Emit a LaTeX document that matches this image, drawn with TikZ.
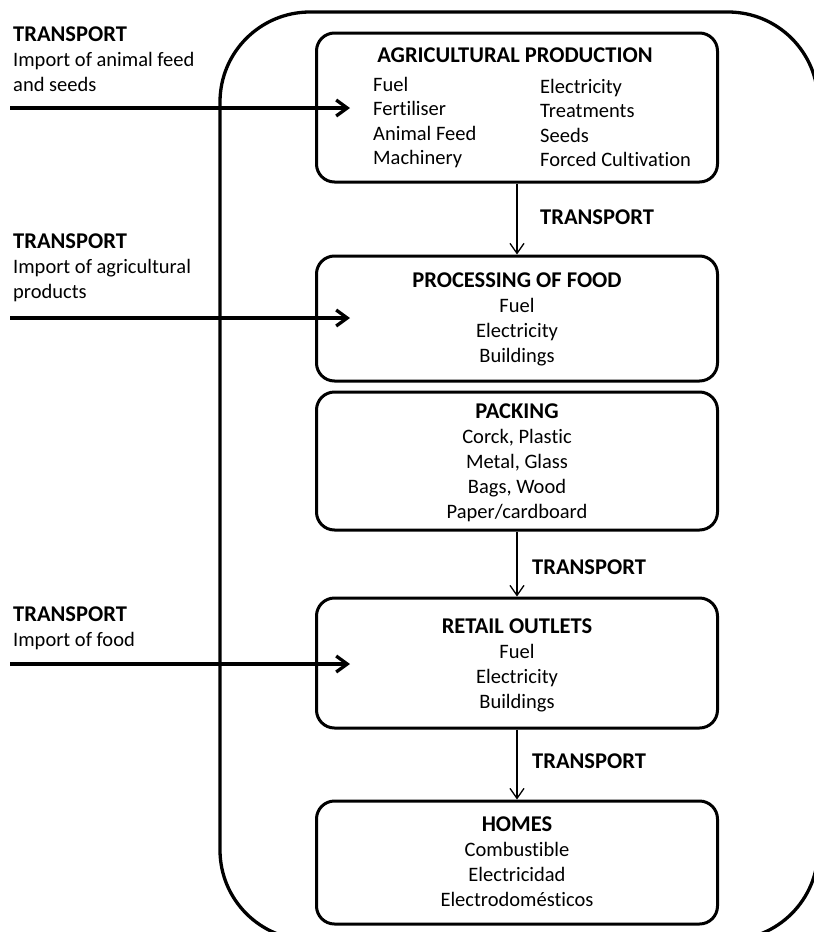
\documentclass[tikz,border=0pt]{standalone}
\usepackage{fontspec}
\setmainfont{Carlito}[Ligatures=CommonOff]
\usetikzlibrary{arrows.meta}

\newcommand{\hd}[1]{{\fontsize{22.5}{25}\selectfont\bfseries #1}}

\begin{document}
\begin{tikzpicture}[x=1pt,y=-1pt]

\useasboundingbox (0,0) rectangle (814,932);

\tikzstyle{every node}=[font=\fontsize{20.5}{25}\selectfont, inner sep=0pt];
\tikzstyle{stage}=[draw, rounded corners=18pt, line width=3pt, minimum width=401pt];
\tikzstyle{feed}=[-{Straight Barb[length=11pt,width=16pt]}, line width=3.3pt];
\tikzstyle{flow}=[-{Straight Barb[length=10pt,width=14pt]}, line width=1.3pt];

% The outer frame of the food chain
\draw[line width=3.3pt, rounded corners=90pt] (220,12) rectangle (818,940);

% Draw the stage boxes
\node[stage, minimum height=149pt] (agri) at (517,107.5) {};
\node[stage, minimum height=125pt] (proc) at (517,318.5) {};
\node[stage, minimum height=138pt] (pack) at (517,461) {};
\node[stage, minimum height=130pt] (retail) at (517,663) {};
\node[stage, minimum height=123pt] (homes) at (517,862.5) {};

% Texts inside the stages (base = last line)
\node[anchor=base] (agri-t) at (515,62) {\hd{AGRICULTURAL PRODUCTION}};
\node[anchor=base west, align=left, font=\fontsize{20.5}{24.5}\selectfont] (agri-l) at (373,164.5)
  {Fuel\\Fertiliser\\Animal Feed\\Machinery};
\node[anchor=base west, align=left, font=\fontsize{20.5}{24.5}\selectfont] (agri-r) at (540,166.5)
  {Electricity\\Treatments\\Seeds\\Forced Cultivation};
\node[anchor=base, align=center] (proc-t) at (517,362)
  {\hd{PROCESSING OF FOOD}\\Fuel\\Electricity\\Buildings};
\node[anchor=base, align=center] (pack-t) at (517,518)
  {\hd{PACKING}\\Corck, Plastic\\Metal, Glass\\Bags, Wood\\Paper/cardboard};
\node[anchor=base, align=center] (retail-t) at (517,708)
  {\hd{RETAIL OUTLETS}\\Fuel\\Electricity\\Buildings};
\node[anchor=base, align=center] (homes-t) at (517,906)
  {\hd{HOMES}\\Combustible\\Electricidad\\Electrodomésticos};

% Transport between the stages
\draw[flow] (agri.south) -- (proc.north);
\draw[flow] (pack.south) -- (retail.north);
\draw[flow] (retail.south) -- (homes.north);
\node[anchor=base west] (tr1) at (540,224) {\hd{TRANSPORT}};
\node[anchor=base west] (tr2) at (532,574) {\hd{TRANSPORT}};
\node[anchor=base west] (tr3) at (532,768) {\hd{TRANSPORT}};

% Imports from outside
\node[anchor=base west, align=left] (imp1) at (13,91)
  {\hd{TRANSPORT}\\Import of animal feed\\and seeds};
\node[anchor=base west, align=left] (imp2) at (13,298)
  {\hd{TRANSPORT}\\Import of agricultural\\products};
\node[anchor=base west, align=left] (imp3) at (13,646)
  {\hd{TRANSPORT}\\Import of food};
\foreach \y [count=\i] in {108,318,664} {
  \coordinate (in\i) at (10,\y);
  \coordinate (to\i) at (350,\y);
  \draw[feed] (in\i) -- (to\i);
}

\end{tikzpicture}
\end{document}
